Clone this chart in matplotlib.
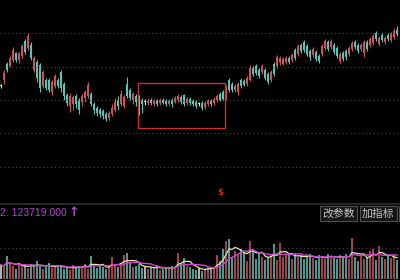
import numpy as np
import pandas as pd
import matplotlib
matplotlib.use('Agg')
import matplotlib.pyplot as plt
from matplotlib.patches import Rectangle

# daily candles (price), oldest first
opens = [3.42, 3.60, 4.08, 4.02, 4.20, 4.41, 4.20, 4.32, 4.77, 4.56,
         4.65, 3.90, 4.14, 4.05, 3.42, 3.60, 3.60, 3.24, 3.42, 3.60,
         3.84, 3.48, 3.15, 2.82, 2.88, 3.12, 3.00, 2.94, 3.06, 3.12,
         3.18, 2.88, 2.76, 2.70, 2.67, 2.58, 2.46, 2.58, 2.70, 3.00,
         2.88, 2.82, 3.48, 3.30, 3.00, 3.12, 3.06, 3.00, 2.94, 2.91,
         3.00, 2.88, 2.97, 2.91, 3.00, 2.97, 2.88, 3.00, 2.94, 3.00,
         3.09, 3.15, 2.91, 3.03, 2.97, 2.94, 2.88, 2.91, 2.79, 2.88,
         2.97, 2.91, 3.00, 3.18, 3.24, 3.06, 3.60, 3.48, 3.30, 3.24,
         3.60, 3.57, 3.48, 3.60, 3.96, 4.02, 3.90, 3.84, 3.90, 3.78,
         3.60, 4.08, 4.02, 4.14, 4.08, 4.14, 4.26, 4.20, 4.50, 4.38,
         4.65, 4.74, 4.62, 4.47, 4.35, 4.44, 4.32, 4.38, 4.56, 4.74,
         4.59, 4.65, 4.56, 4.17, 4.41, 4.47, 4.38, 4.53, 4.74, 4.65,
         4.53, 4.41, 4.74, 4.65, 4.71, 5.01, 4.68, 4.95, 4.74, 4.95,
         4.80, 4.89, 5.10]
closes = [3.42, 3.81, 3.90, 4.26, 4.50, 4.20, 4.41, 4.62, 4.44, 4.92,
          4.26, 4.26, 3.66, 3.36, 3.84, 3.36, 3.30, 3.54, 3.72, 3.42,
          3.36, 3.12, 2.91, 3.12, 3.09, 2.88, 2.70, 3.12, 3.24, 3.45,
          2.88, 2.70, 2.61, 2.58, 2.52, 2.43, 2.61, 2.76, 2.94, 2.82,
          3.18, 3.09, 3.12, 3.06, 3.18, 2.94, 2.82, 2.88, 2.94, 2.97,
          2.91, 2.97, 2.88, 3.00, 2.91, 2.88, 2.97, 2.88, 3.06, 3.12,
          2.94, 2.88, 3.03, 2.91, 2.88, 2.82, 2.88, 2.76, 2.91, 2.97,
          2.88, 3.03, 3.12, 3.00, 3.03, 3.36, 3.30, 3.30, 3.42, 3.48,
          3.42, 3.45, 3.66, 3.96, 3.78, 3.81, 3.72, 4.02, 3.66, 3.54,
          3.84, 3.78, 4.29, 4.26, 4.23, 4.26, 4.14, 4.35, 4.26, 4.62,
          4.47, 4.50, 4.38, 4.29, 4.53, 4.23, 4.17, 4.62, 4.77, 4.53,
          4.77, 4.44, 4.32, 4.38, 4.23, 4.29, 4.56, 4.71, 4.59, 4.47,
          4.65, 4.74, 4.53, 4.83, 4.92, 4.83, 4.86, 4.80, 4.86, 4.83,
          4.98, 5.07, 4.98]
highs = [3.48, 3.90, 4.14, 4.32, 4.59, 4.44, 4.44, 4.68, 4.83, 5.01,
         4.74, 4.32, 4.20, 4.11, 3.90, 3.66, 3.66, 3.60, 3.78, 3.66,
         3.90, 3.54, 3.21, 3.21, 3.15, 3.18, 3.06, 3.18, 3.30, 3.54,
         3.24, 2.94, 2.82, 2.76, 2.73, 2.64, 2.67, 2.88, 3.06, 3.12,
         3.30, 3.15, 3.69, 3.36, 3.24, 3.18, 3.15, 3.06, 3.03, 3.06,
         3.06, 3.03, 3.03, 3.06, 3.06, 3.03, 3.03, 3.06, 3.12, 3.18,
         3.15, 3.18, 3.09, 3.09, 3.03, 3.00, 2.94, 2.97, 2.97, 3.03,
         3.03, 3.09, 3.18, 3.24, 3.30, 3.45, 3.66, 3.54, 3.48, 3.54,
         3.66, 3.63, 3.72, 4.05, 4.02, 4.08, 3.96, 4.08, 3.96, 3.84,
         3.90, 4.14, 4.35, 4.32, 4.29, 4.32, 4.32, 4.41, 4.56, 4.68,
         4.71, 4.80, 4.68, 4.53, 4.59, 4.50, 4.38, 4.68, 4.83, 4.80,
         4.83, 4.71, 4.62, 4.44, 4.47, 4.53, 4.62, 4.77, 4.80, 4.71,
         4.71, 4.80, 4.80, 4.89, 4.98, 5.07, 4.92, 5.01, 4.92, 5.01,
         5.04, 5.16, 5.22]
lows = [3.36, 3.48, 3.84, 3.99, 4.14, 4.14, 4.11, 4.26, 4.38, 4.50,
        4.20, 3.84, 3.54, 3.24, 3.36, 3.30, 3.24, 3.15, 3.36, 3.36,
        3.24, 3.00, 2.82, 2.64, 2.70, 2.76, 2.58, 2.82, 2.94, 3.06,
        2.82, 2.58, 2.52, 2.49, 2.43, 2.37, 2.40, 2.52, 2.64, 2.70,
        2.82, 2.76, 3.06, 3.00, 2.88, 2.82, 2.55, 2.61, 2.85, 2.85,
        2.85, 2.82, 2.82, 2.85, 2.88, 2.82, 2.82, 2.79, 2.91, 2.94,
        2.88, 2.82, 2.85, 2.85, 2.82, 2.76, 2.82, 2.70, 2.73, 2.82,
        2.82, 2.85, 2.94, 2.97, 3.00, 3.00, 3.24, 3.24, 3.24, 3.15,
        3.36, 3.42, 3.42, 3.57, 3.72, 3.75, 3.66, 3.78, 3.60, 3.48,
        3.54, 3.72, 3.96, 4.05, 4.05, 4.08, 4.08, 4.14, 4.20, 4.32,
        4.41, 4.44, 4.32, 4.20, 4.29, 4.17, 4.11, 4.32, 4.50, 4.47,
        4.53, 4.38, 4.26, 4.11, 4.17, 4.20, 4.32, 4.47, 4.53, 4.41,
        4.47, 4.29, 4.47, 4.59, 4.65, 4.77, 4.62, 4.74, 4.68, 4.77,
        4.74, 4.83, 4.92]
volumes = [14, 12, 23, 15, 13, 10, 16, 12, 14, 11,
           15, 12, 18, 13, 10, 12, 16, 11, 14, 12,
           13, 10, 12, 9, 14, 11, 13, 12, 15, 10,
           23, 13, 11, 14, 12, 10, 13, 22, 15, 12,
           14, 24, 26, 16, 12, 13, 15, 11, 12, 10,
           12, 11, 14, 9, 10, 12, 11, 13, 12, 26,
           16, 21, 13, 12, 10, 9, 11, 8, 10, 12,
           11, 12, 24, 18, 30, 38, 40, 22, 28, 24,
           30, 27, 18, 38, 28, 20, 26, 22, 19, 21,
           24, 35, 19, 36, 22, 25, 24, 20, 25, 22,
           24, 20, 23, 25, 21, 19, 24, 22, 20, 25,
           23, 21, 20, 24, 22, 25, 20, 41, 22, 18,
           24, 20, 22, 28, 30, 19, 33, 22, 20, 23,
           21, 24, 19]

# highlighted consolidation range (candle index, price)
box_x = [45.7, 74.7]
box_y = [2.16, 3.51]

vol_label = '2: 123719.000'
buttons = ['改参数', '加指标']

RED = '#d0505c'
TEAL = '#58c4b8'
GRID = '#484848'

plt.rcParams['font.family'] = ['Noto Sans CJK SC', 'DejaVu Sans']

W, H = 400, 280
fig = plt.figure(figsize=(4, 2.8), dpi=100, facecolor='black')

o = np.array(opens); c = np.array(closes)
hi = np.array(highs); lo = np.array(lows)
x = np.arange(len(o))
col = np.where(c > o, RED, np.where(c < o, TEAL, '#dddddd'))
xl = (-0.33, len(o) - 0.03)

# price panel
ax = fig.add_axes([0, (H - 203) / H, 1, 203 / H])
ax.set_facecolor('black')
for g in [1, 2, 3, 4, 5]:
    ax.axhline(g, color=GRID, lw=0.8, ls=(0, (1, 2.5)))
ax.vlines(x, lo, hi, colors=col, lw=0.8)
body = np.maximum(np.abs(c - o), 0.02)
ax.bar(x, body, bottom=np.minimum(o, c), width=0.62, color=col, lw=0)
ax.add_patch(Rectangle((box_x[0], box_y[0]), box_x[1] - box_x[0], box_y[1] - box_y[0],
                       fill=False, ec='#c83232', lw=1.0))
ax.text(73.0, 0.1, '$', color='#e02020', fontsize=6, ha='center', va='bottom',
        fontweight='bold', family=['DejaVu Sans'])
ax.set_xlim(*xl); ax.set_ylim(-0.09, 6.0)
ax.axis('off')

# separator
fig.add_artist(plt.Line2D([0, 1], [(H - 203.5) / H] * 2, color='#2e2e2e', lw=1.2))

# volume panel
av = fig.add_axes([0, 0, 1, 58 / H])
av.set_facecolor('black')
av.axhline(31, color=GRID, lw=0.8, ls=(0, (1, 2.5)))
v = np.array(volumes, dtype=float)
av.bar(x, v, width=0.62, color=col, alpha=0.8, lw=0)
ma5 = pd.Series(v).rolling(5, min_periods=1).mean()
ma10 = pd.Series(v).rolling(10, min_periods=1).mean()
av.plot(x, ma5, color='#ece4a8', lw=0.9)
av.plot(x, ma10, color='#c844d0', lw=1.0)
av.set_xlim(*xl); av.set_ylim(-1, 57)
av.axis('off')

# label row
fig.text(0 / W, 1 - 213 / H, vol_label, color='#b048d0', fontsize=7.5,
         va='center', ha='left', family=['Liberation Sans', 'DejaVu Sans'])
fig.text(74 / W, 1 - 213 / H, '↑', color='#b048d0', fontsize=9, fontweight='bold',
         va='center', ha='center', family=['DejaVu Sans'])
for bx, lab in zip([320, 360], buttons):
    fig.add_artist(Rectangle((bx / W, 1 - 221 / H), 37 / W, 15 / H, transform=fig.transFigure,
                             fc='#141414', ec='#505050', lw=0.8))
    fig.text((bx + 18.5) / W, 1 - 213.5 / H, lab, color='#c8c8c8', fontsize=7.8,
             ha='center', va='center')
fig.add_artist(Rectangle((399 / W, 1 - 221 / H), 10 / W, 15 / H, transform=fig.transFigure,
                         fc='#141414', ec='#505050', lw=0.8))

fig.savefig('out.png', dpi=100, facecolor='black')
